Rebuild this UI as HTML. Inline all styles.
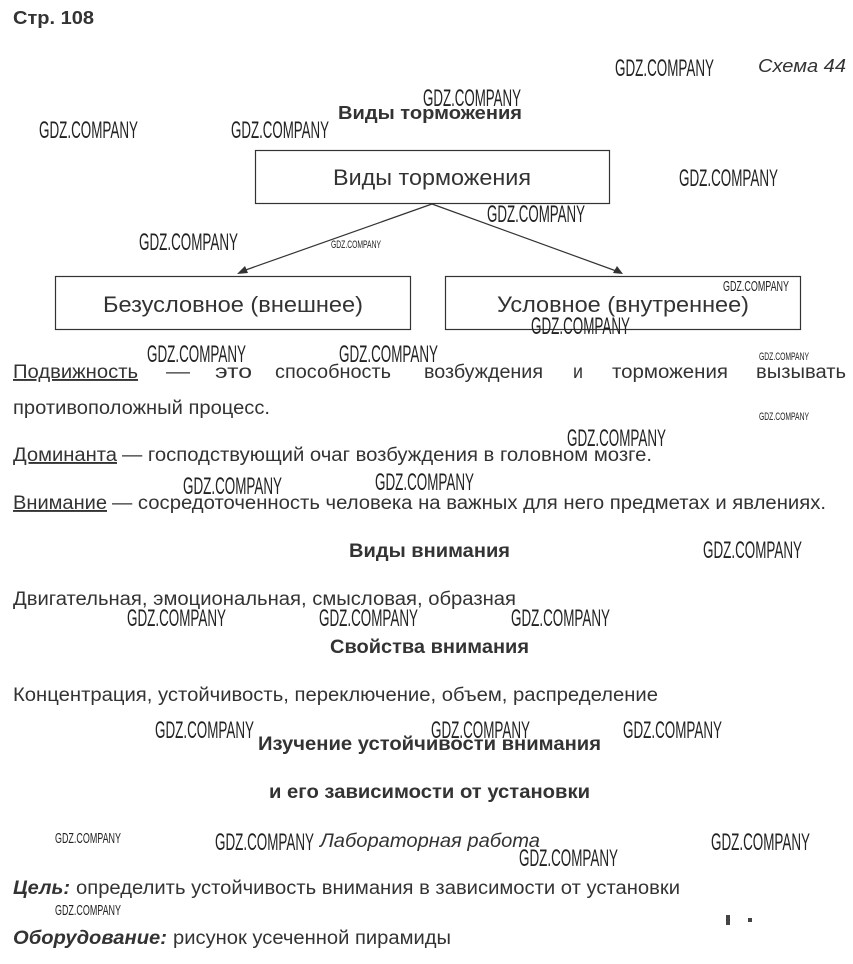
<!DOCTYPE html>
<html><head><meta charset="utf-8"><style>
html,body{margin:0;padding:0;background:#fff;}
svg{display:block}
text{font-family:"Liberation Sans",Arial,sans-serif;fill:#333}
.b{font-weight:bold}
.w{font-family:"Liberation Sans Narrow","Liberation Sans",sans-serif;fill:#222;font-size:24px}
.ws{font-family:"Liberation Sans Narrow","Liberation Sans",sans-serif;fill:#222;font-size:11px}
.wm{font-family:"Liberation Sans Narrow","Liberation Sans",sans-serif;fill:#222;font-size:15px}
</style></head><body>
<svg width="853" height="964" viewBox="0 0 853 964" xmlns="http://www.w3.org/2000/svg">
<g font-size="18.5">
<text class="b" x="13" y="24" textLength="81" lengthAdjust="spacingAndGlyphs">Стр. 108</text>
<text x="758" y="72" font-style="italic" textLength="88" lengthAdjust="spacingAndGlyphs">Схема 44</text>
<text class="b" x="338" y="119" textLength="184" lengthAdjust="spacingAndGlyphs">Виды торможения</text>
</g>
<g fill="none" stroke="#333" stroke-width="1.2">
<rect x="255.5" y="150.5" width="354" height="53"/>
<rect x="55.5" y="276.5" width="355" height="53"/>
<rect x="445.5" y="276.5" width="355" height="53"/>
<line x1="432" y1="204" x2="240" y2="272"/>
<line x1="432" y1="204" x2="619" y2="272"/>
</g>
<polygon points="237,274 245,266 248,273" fill="#333"/>
<polygon points="623,274 613,273 617,266" fill="#333"/>
<g font-size="22">
<text x="333" y="185" textLength="198" lengthAdjust="spacingAndGlyphs">Виды торможения</text>
<text x="103" y="312" textLength="260" lengthAdjust="spacingAndGlyphs">Безусловное (внешнее)</text>
<text x="497" y="312" textLength="252" lengthAdjust="spacingAndGlyphs">Условное (внутреннее)</text>
</g>
<g font-size="19">
<text x="13" y="378" text-decoration="underline" textLength="125" lengthAdjust="spacingAndGlyphs">Подвижность</text>
<text x="166" y="378" textLength="24" lengthAdjust="spacingAndGlyphs">—</text>
<text x="215" y="378" textLength="37" lengthAdjust="spacingAndGlyphs">это</text>
<text x="275" y="378" textLength="116" lengthAdjust="spacingAndGlyphs">способность</text>
<text x="424" y="378" textLength="119" lengthAdjust="spacingAndGlyphs">возбуждения</text>
<text x="573" y="378" textLength="10" lengthAdjust="spacingAndGlyphs">и</text>
<text x="612" y="378" textLength="116" lengthAdjust="spacingAndGlyphs">торможения</text>
<text x="756" y="378" textLength="90" lengthAdjust="spacingAndGlyphs">вызывать</text>
<text x="13" y="414" textLength="257" lengthAdjust="spacingAndGlyphs">противоположный процесс.</text>
<text x="13" y="461" text-decoration="underline" textLength="104" lengthAdjust="spacingAndGlyphs">Доминанта</text>
<text x="122" y="461" textLength="530" lengthAdjust="spacingAndGlyphs">— господствующий очаг возбуждения в головном мозге.</text>
<text x="13" y="509" text-decoration="underline" textLength="94" lengthAdjust="spacingAndGlyphs">Внимание</text>
<text x="112" y="509" textLength="714" lengthAdjust="spacingAndGlyphs">— сосредоточенность человека на важных для него предметах и явлениях.</text>
<text class="b" x="349" y="557" textLength="161" lengthAdjust="spacingAndGlyphs">Виды внимания</text>
<text x="13" y="605" textLength="503" lengthAdjust="spacingAndGlyphs">Двигательная, эмоциональная, смысловая, образная</text>
<text class="b" x="330" y="653" textLength="199" lengthAdjust="spacingAndGlyphs">Свойства внимания</text>
<text x="13" y="701" textLength="645" lengthAdjust="spacingAndGlyphs">Концентрация, устойчивость, переключение, объем, распределение</text>
<text class="b" x="258" y="750" textLength="343" lengthAdjust="spacingAndGlyphs">Изучение устойчивости внимания</text>
<text class="b" x="269" y="798" textLength="321" lengthAdjust="spacingAndGlyphs">и его зависимости от установки</text>
<text x="320" y="847" font-style="italic" textLength="220" lengthAdjust="spacingAndGlyphs">Лабораторная работа</text>
<text x="13" y="894" class="b" font-style="italic" textLength="57" lengthAdjust="spacingAndGlyphs">Цель:</text>
<text x="76" y="894" textLength="604" lengthAdjust="spacingAndGlyphs">определить устойчивость внимания в зависимости от установки</text>
<text x="13" y="944" class="b" font-style="italic" textLength="154" lengthAdjust="spacingAndGlyphs">Оборудование:</text>
<text x="173" y="944" textLength="278" lengthAdjust="spacingAndGlyphs">рисунок усеченной пирамиды</text>
</g>
<rect x="726" y="915" width="4" height="10" fill="#444"/>
<rect x="748" y="918" width="4" height="4" fill="#444"/>
<g>
<text class="w" x="615" y="76" textLength="99" lengthAdjust="spacingAndGlyphs">GDZ.COMPANY</text>
<text class="w" x="423" y="106" textLength="98" lengthAdjust="spacingAndGlyphs">GDZ.COMPANY</text>
<text class="w" x="39" y="138" textLength="99" lengthAdjust="spacingAndGlyphs">GDZ.COMPANY</text>
<text class="w" x="231" y="138" textLength="98" lengthAdjust="spacingAndGlyphs">GDZ.COMPANY</text>
<text class="w" x="679" y="186" textLength="99" lengthAdjust="spacingAndGlyphs">GDZ.COMPANY</text>
<text class="w" x="487" y="222" textLength="98" lengthAdjust="spacingAndGlyphs">GDZ.COMPANY</text>
<text class="w" x="139" y="250" textLength="99" lengthAdjust="spacingAndGlyphs">GDZ.COMPANY</text>
<text class="ws" x="331" y="248" textLength="50" lengthAdjust="spacingAndGlyphs">GDZ.COMPANY</text>
<text class="wm" x="723" y="291" textLength="66" lengthAdjust="spacingAndGlyphs">GDZ.COMPANY</text>
<text class="w" x="531" y="334" textLength="99" lengthAdjust="spacingAndGlyphs">GDZ.COMPANY</text>
<text class="w" x="147" y="362" textLength="99" lengthAdjust="spacingAndGlyphs">GDZ.COMPANY</text>
<text class="w" x="339" y="362" textLength="99" lengthAdjust="spacingAndGlyphs">GDZ.COMPANY</text>
<text class="ws" x="759" y="360" textLength="50" lengthAdjust="spacingAndGlyphs">GDZ.COMPANY</text>
<text class="ws" x="759" y="420" textLength="50" lengthAdjust="spacingAndGlyphs">GDZ.COMPANY</text>
<text class="w" x="567" y="446" textLength="99" lengthAdjust="spacingAndGlyphs">GDZ.COMPANY</text>
<text class="w" x="183" y="494" textLength="99" lengthAdjust="spacingAndGlyphs">GDZ.COMPANY</text>
<text class="w" x="375" y="490" textLength="99" lengthAdjust="spacingAndGlyphs">GDZ.COMPANY</text>
<text class="w" x="703" y="558" textLength="99" lengthAdjust="spacingAndGlyphs">GDZ.COMPANY</text>
<text class="w" x="127" y="626" textLength="99" lengthAdjust="spacingAndGlyphs">GDZ.COMPANY</text>
<text class="w" x="319" y="626" textLength="99" lengthAdjust="spacingAndGlyphs">GDZ.COMPANY</text>
<text class="w" x="511" y="626" textLength="99" lengthAdjust="spacingAndGlyphs">GDZ.COMPANY</text>
<text class="w" x="155" y="738" textLength="99" lengthAdjust="spacingAndGlyphs">GDZ.COMPANY</text>
<text class="w" x="431" y="738" textLength="99" lengthAdjust="spacingAndGlyphs">GDZ.COMPANY</text>
<text class="w" x="623" y="738" textLength="99" lengthAdjust="spacingAndGlyphs">GDZ.COMPANY</text>
<text class="wm" x="55" y="843" textLength="66" lengthAdjust="spacingAndGlyphs">GDZ.COMPANY</text>
<text class="w" x="215" y="850" textLength="99" lengthAdjust="spacingAndGlyphs">GDZ.COMPANY</text>
<text class="w" x="711" y="850" textLength="99" lengthAdjust="spacingAndGlyphs">GDZ.COMPANY</text>
<text class="w" x="519" y="866" textLength="99" lengthAdjust="spacingAndGlyphs">GDZ.COMPANY</text>
<text class="wm" x="55" y="915" textLength="66" lengthAdjust="spacingAndGlyphs">GDZ.COMPANY</text>
</g>
</svg>
</body></html>
